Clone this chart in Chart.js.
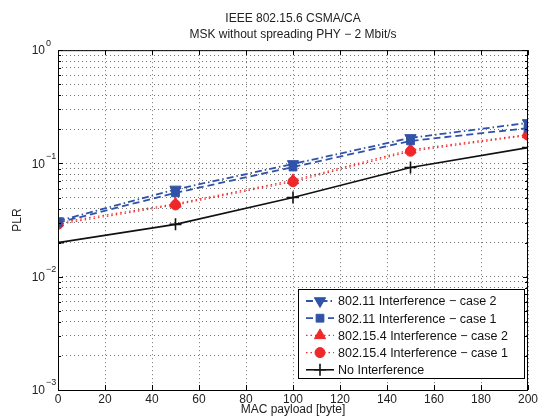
<!DOCTYPE html>
<html>
<head>
<meta charset="utf-8">
<script src="https://cdn.jsdelivr.net/npm/chart.js@4/dist/chart.umd.min.js"></script>
<style>
  html, body { margin: 0; padding: 0; background: #fff; }
  #wrap { width: 545px; height: 419px; }
</style>
</head>
<body>
<div id="wrap"><canvas id="myChart"></canvas></div>
<script>
// MAC payload sizes [byte]
const payload = [0, 50, 100, 150, 200];

// packet loss ratio
const wifiCase2 = [0.031, 0.059, 0.099, 0.168, 0.228];
const wifiCase1 = [0.030, 0.055, 0.093, 0.158, 0.205];
const zigbeeCase2 = [0.030, 0.044, 0.071, 0.132, 0.180];
const zigbeeCase1 = [0.029, 0.043, 0.069, 0.128, 0.177];
const noInterference = [0.020, 0.029, 0.050, 0.092, 0.138];

const seriesLabels = [
    '802.11 Interference \u2212 case 2',
    '802.11 Interference \u2212 case 1',
    '802.15.4 Interference \u2212 case 2',
    '802.15.4 Interference \u2212 case 1',
    'No Interference'
];
const xTicks = [0, 20, 40, 60, 80, 100, 120, 140, 160, 180, 200];
const yDecades = [-3, -2, -1, 0];

const BLUE = '#3052a8';
const RED = '#f0282a';
const FONT = 'Liberation Sans, Arial, Helvetica, sans-serif';

function points(vals) {
    return payload.map((x, i) => ({ x: x, y: vals[i] }));
}

// box, inward tick marks, 10^n labels, legend
const matlabAxes = {
    id: 'matlabAxes',
    afterDatasetsDraw(chart) {
        const ctx = chart.ctx;
        const a = chart.chartArea;
        const xs = chart.scales.x;
        const ys = chart.scales.y;
        ctx.save();
        ctx.strokeStyle = '#000';
        ctx.lineWidth = 1;
        ctx.strokeRect(a.left + 0.5, a.top + 0.5, a.right - a.left - 1, a.bottom - a.top);

        ctx.beginPath();
        xTicks.forEach(v => {
            const px = Math.round(xs.getPixelForValue(v)) + 0.5;
            ctx.moveTo(px, a.bottom); ctx.lineTo(px, a.bottom - 5);
            ctx.moveTo(px, a.top); ctx.lineTo(px, a.top + 5);
        });
        for (let e = -3; e <= 0; e++) {
            for (let m = 1; m <= 9; m++) {
                const v = m * Math.pow(10, e);
                if (v > 1) break;
                const py = Math.round(ys.getPixelForValue(v)) + 0.5;
                const len = m === 1 ? 5 : 3;
                ctx.moveTo(a.left, py); ctx.lineTo(a.left + len, py);
                ctx.moveTo(a.right, py); ctx.lineTo(a.right - len, py);
            }
        }
        ctx.stroke();

        // y tick labels 10^n
        ctx.fillStyle = '#222';
        yDecades.forEach(e => {
            const py = ys.getPixelForValue(Math.pow(10, e));
            ctx.font = '12px ' + FONT;
            ctx.textAlign = 'right';
            ctx.textBaseline = 'middle';
            ctx.fillText('10', a.left - 13, py + 1);
            ctx.font = '9px ' + FONT;
            ctx.textAlign = 'left';
            ctx.fillText(e < 0 ? '\u2212' + (-e) : String(e), a.left - 12, py - 7);
        });

        // legend inside the axes
        const bx = 298, by = 289, bw = 226, bh = 89;
        ctx.fillStyle = '#fff';
        ctx.fillRect(bx, by, bw, bh);
        ctx.strokeStyle = '#000';
        ctx.lineWidth = 1;
        ctx.strokeRect(bx + 0.5, by + 0.5, bw, bh);
        chart.data.datasets.forEach((ds, i) => {
            const ry = by + 12 + i * 17.2;
            ctx.save();
            ctx.strokeStyle = ds.borderColor;
            ctx.lineWidth = ds.borderWidth;
            ctx.setLineDash(ds.borderDash || []);
            ctx.beginPath();
            ctx.moveTo(bx + 8, ry); ctx.lineTo(bx + 36, ry);
            ctx.stroke();
            ctx.restore();
            ctx.fillStyle = ds.pointBackgroundColor;
            ctx.strokeStyle = ds.pointBorderColor;
            ctx.lineWidth = ds.pointBorderWidth;
            Chart.helpers.drawPoint(ctx, {
                pointStyle: ds.pointStyle,
                rotation: ds.pointRotation || 0,
                radius: ds.pointRadius,
                borderWidth: ds.pointBorderWidth
            }, bx + 22, ry);
            ctx.fillStyle = '#111';
            ctx.font = '12.5px ' + FONT;
            ctx.textAlign = 'left';
            ctx.textBaseline = 'middle';
            ctx.fillText(ds.label, bx + 40, ry + 1);
        });
        ctx.restore();
    }
};

const ctx = document.getElementById('myChart').getContext('2d');
const myChart = new Chart(ctx, {
    type: 'line',
    data: {
        datasets: [{
            label: seriesLabels[0],
            data: points(wifiCase2),
            borderColor: BLUE,
            borderWidth: 1.8,
            borderDash: [7, 3, 1.5, 3],
            pointStyle: 'triangle',
            pointRotation: 180,
            pointRadius: 6.5,
            pointBackgroundColor: BLUE,
            pointBorderColor: BLUE,
            pointBorderWidth: 1
        }, {
            label: seriesLabels[1],
            data: points(wifiCase1),
            borderColor: BLUE,
            borderWidth: 1.8,
            borderDash: [7, 4],
            pointStyle: 'rect',
            pointRadius: 5.5,
            pointBackgroundColor: BLUE,
            pointBorderColor: BLUE,
            pointBorderWidth: 1
        }, {
            label: seriesLabels[2],
            data: points(zigbeeCase2),
            borderColor: RED,
            borderWidth: 1.2,
            borderDash: [1.5, 3],
            pointStyle: 'triangle',
            pointRadius: 6.5,
            pointBackgroundColor: RED,
            pointBorderColor: RED,
            pointBorderWidth: 1
        }, {
            label: seriesLabels[3],
            data: points(zigbeeCase1),
            borderColor: RED,
            borderWidth: 1.2,
            borderDash: [1.5, 3],
            pointStyle: 'circle',
            pointRadius: 5,
            pointBackgroundColor: RED,
            pointBorderColor: RED,
            pointBorderWidth: 1
        }, {
            label: seriesLabels[4],
            data: points(noInterference),
            borderColor: '#111',
            borderWidth: 1.6,
            pointStyle: 'cross',
            pointRadius: 6,
            pointBackgroundColor: '#111',
            pointBorderColor: '#111',
            pointBorderWidth: 1.6
        }]
    },
    options: {
        responsive: true,
        maintainAspectRatio: false,
        animation: false,
        layout: { padding: { left: 0, right: 17, top: 0, bottom: 0 } },
        plugins: {
            legend: { display: false },
            tooltip: { enabled: false },
            title: {
                display: true,
                fullSize: false,
                text: ['IEEE 802.15.6 CSMA/CA', 'MSK without spreading PHY \u2212 2 Mbit/s'],
                color: '#222',
                font: { family: FONT, size: 12, weight: 'normal', lineHeight: 1.34 },
                padding: { top: 11, bottom: 7 }
            }
        },
        scales: {
            x: {
                type: 'linear',
                min: 0,
                max: 200,
                afterFit: s => { s.height = 29; },
                afterBuildTicks: s => { s.ticks = xTicks.map(v => ({ value: v })); },
                ticks: {
                    color: '#222',
                    font: { family: FONT, size: 12 },
                    padding: 2,
                    maxRotation: 0
                },
                grid: { color: 'rgba(0,0,0,0.55)', lineWidth: 1, drawTicks: false },
                border: { display: false, dash: [1, 3] },
                title: {
                    display: true,
                    text: 'MAC payload [byte]',
                    color: '#222',
                    font: { family: FONT, size: 12 },
                    padding: { top: 0, bottom: 2 }
                }
            },
            y: {
                type: 'logarithmic',
                min: 0.001,
                max: 1,
                afterFit: s => { s.width = 58; },
                afterBuildTicks: s => {
                    const t = [];
                    for (let e = -3; e <= 0; e++) {
                        for (let m = 1; m <= 9; m++) {
                            const v = m * Math.pow(10, e);
                            if (v > 1) break;
                            t.push({ value: v });
                        }
                    }
                    s.ticks = t;
                },
                ticks: { display: false },
                grid: { color: 'rgba(0,0,0,0.55)', lineWidth: 1, drawTicks: false },
                border: { display: false, dash: [1, 3] },
                title: {
                    display: true,
                    text: 'PLR',
                    color: '#222',
                    font: { family: FONT, size: 12 },
                    padding: { top: 10, bottom: 0 }
                }
            }
        }
    },
    plugins: [matlabAxes]
});
</script>
</body>
</html>
